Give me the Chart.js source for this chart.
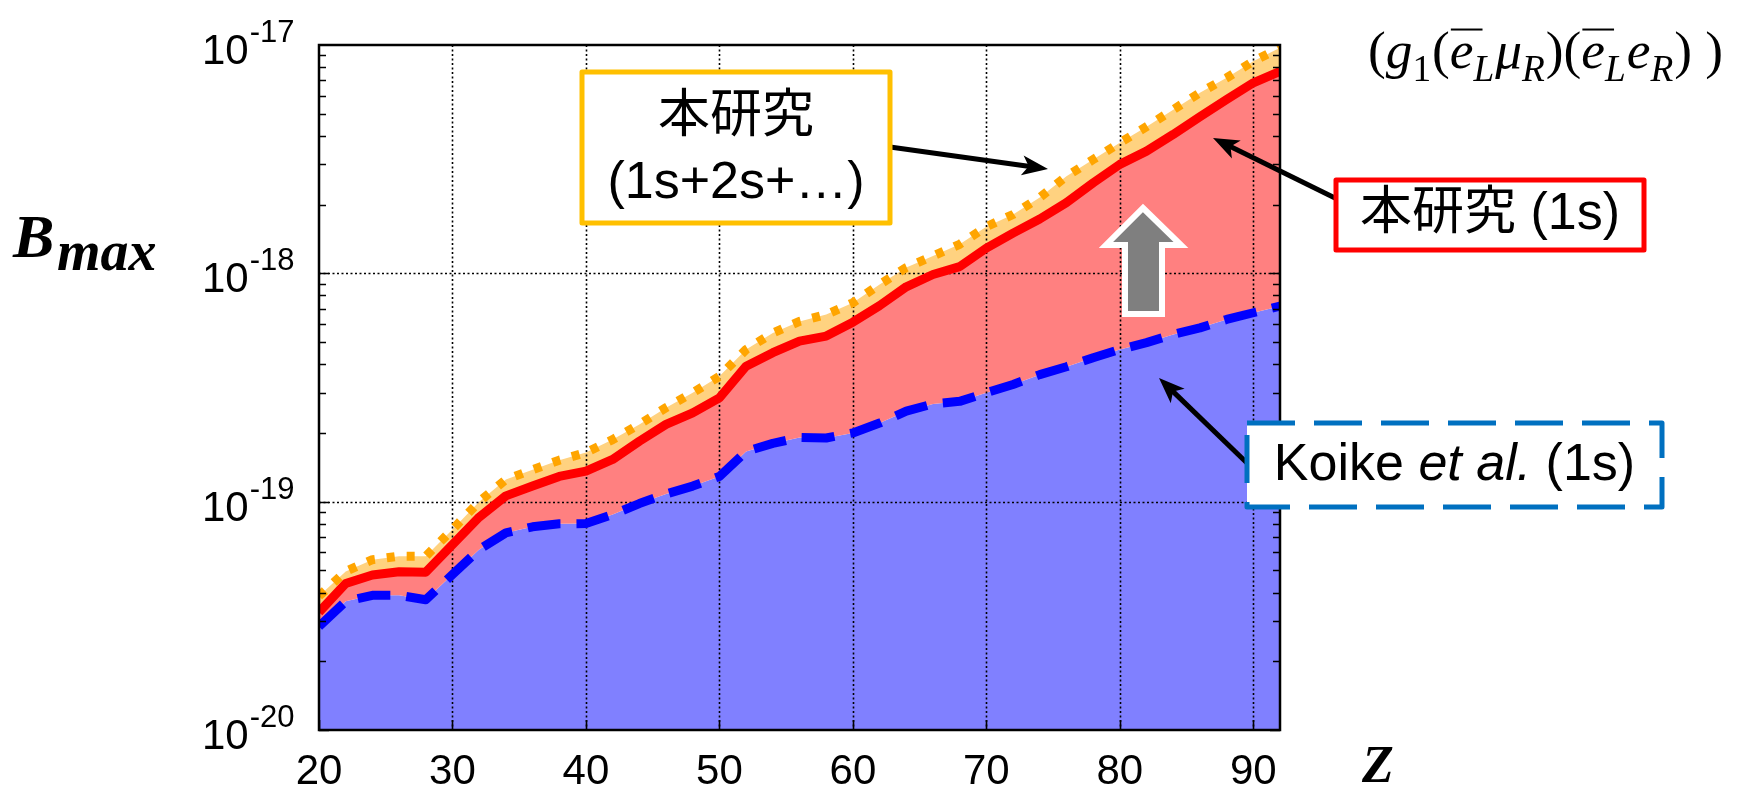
<!DOCTYPE html>
<html>
<head>
<meta charset="utf-8">
<script src="https://cdn.jsdelivr.net/npm/chart.js@4.4.0/dist/chart.umd.min.js"></script>
<style>
  html, body { margin: 0; padding: 0; background: #fff; }
  #wrap { width: 1738px; height: 788px; }
</style>
</head>
<body>
<div id="wrap"><canvas id="myChart" width="1738" height="788"></canvas></div>
<script>
// atomic number Z of the target nucleus
const zValues = [20, 22, 24, 26, 28, 30, 32, 34, 36, 38, 40, 42, 44, 46, 48, 50, 52, 54, 56,
  58, 60, 62, 64, 66, 68, 70, 72, 74, 76, 78, 80, 82, 84, 86, 88, 90, 92];

// this work, 1s+2s+... (orange dotted)
const bmaxAll = [3.86e-20, 4.95e-20, 5.57e-20, 5.77e-20, 5.77e-20, 7.55e-20, 1.00e-19, 1.25e-19,
  1.38e-19, 1.52e-19, 1.64e-19, 1.87e-19, 2.18e-19, 2.58e-19, 3.0e-19, 3.54e-19, 4.64e-19,
  5.48e-19, 6.16e-19, 6.6e-19, 7.43e-19, 8.93e-19, 1.06e-18, 1.19e-18, 1.34e-18, 1.60e-18,
  1.81e-18, 2.15e-18, 2.66e-18, 3.15e-18, 3.73e-18, 4.39e-18, 5.21e-18, 6.18e-18, 7.18e-18,
  8.49e-18, 9.72e-18];

// this work, 1s only (red solid)
const bmax1s = [3.28e-20, 4.38e-20, 4.77e-20, 4.93e-20, 4.91e-20, 6.49e-20, 8.55e-20, 1.06e-19,
  1.17e-19, 1.29e-19, 1.36e-19, 1.53e-19, 1.84e-19, 2.18e-19, 2.45e-19, 2.85e-19, 3.92e-19,
  4.49e-19, 5.05e-19, 5.31e-19, 6.11e-19, 7.22e-19, 8.73e-19, 9.88e-19, 1.07e-18, 1.29e-18,
  1.50e-18, 1.73e-18, 2.04e-18, 2.49e-18, 3.0e-18, 3.43e-18, 4.06e-18, 4.85e-18, 5.77e-18,
  6.83e-18, 7.67e-18];

// Koike et al., 1s (blue dashed)
const bmaxKoike = [2.84e-20, 3.66e-20, 3.89e-20, 3.89e-20, 3.72e-20, 4.80e-20, 6.17e-20, 7.30e-20,
  7.76e-20, 8.0e-20, 8.02e-20, 8.78e-20, 9.81e-20, 1.08e-19, 1.17e-19, 1.29e-19, 1.66e-19,
  1.80e-19, 1.91e-19, 1.90e-19, 2.0e-19, 2.21e-19, 2.49e-19, 2.68e-19, 2.75e-19, 3.0e-19,
  3.26e-19, 3.6e-19, 3.9e-19, 4.27e-19, 4.64e-19, 4.97e-19, 5.40e-19, 5.77e-19, 6.28e-19,
  6.72e-19, 7.18e-19];

const xTicks = [20, 30, 40, 50, 60, 70, 80, 90];
const yExponents = [-20, -19, -18, -17];

const toPoints = (arr) => zValues.map((z, i) => ({x: z, y: arr[i]}));

const SANS = '\'Liberation Sans\', Arial, \'Noto Sans CJK JP\', sans-serif';
const SERIF = '\'Liberation Serif\', \'Times New Roman\', serif';

// dotted grid, drawn over the fills but under the lines
const gridPlugin = {
  id: 'dottedGrid',
  afterDatasetDraw(chart, args) {
    if (args.index !== 3) return;
    const {ctx, chartArea: a, scales: {x, y}} = chart;
    ctx.save();
    ctx.strokeStyle = '#000';
    ctx.lineWidth = 1.6;
    ctx.setLineDash([2, 2.5]);
    xTicks.slice(1).forEach((v) => {
      const px = Math.round(x.getPixelForValue(v)) + 0.5;
      ctx.beginPath();
      ctx.moveTo(px, a.top);
      ctx.lineTo(px, a.bottom);
      ctx.stroke();
    });
    yExponents.slice(1, -1).forEach((e) => {
      const py = Math.round(y.getPixelForValue(Math.pow(10, e))) + 0.5;
      ctx.beginPath();
      ctx.moveTo(a.left, py);
      ctx.lineTo(a.right, py);
      ctx.stroke();
    });
    ctx.restore();
  },
};

function drawArrow(ctx, x1, y1, x2, y2) {
  const ang = Math.atan2(y2 - y1, x2 - x1);
  const c = Math.cos(ang);
  const s = Math.sin(ang);
  const headLen = 26;
  const headW = 10;
  ctx.save();
  ctx.strokeStyle = '#000';
  ctx.fillStyle = '#000';
  ctx.lineWidth = 5;
  ctx.beginPath();
  ctx.moveTo(x1, y1);
  ctx.lineTo(x2 - c * headLen * 0.7, y2 - s * headLen * 0.7);
  ctx.stroke();
  ctx.beginPath();
  ctx.moveTo(x2, y2);
  ctx.lineTo(x2 - c * headLen - s * headW, y2 - s * headLen + c * headW);
  ctx.lineTo(x2 - c * headLen * 0.75, y2 - s * headLen * 0.75);
  ctx.lineTo(x2 - c * headLen + s * headW, y2 - s * headLen - c * headW);
  ctx.closePath();
  ctx.fill();
  ctx.restore();
}

// (g1 (eL-bar muR)(eL-bar eR) ) in math style
const formulaParts = [
  {t: '(', it: false}, {t: 'g', it: true}, {t: '1', it: false, sub: true},
  {t: '(', it: false}, {t: 'e', it: true, bar: true}, {t: 'L', it: true, sub: true},
  {t: 'μ', it: true}, {t: 'R', it: true, sub: true}, {t: ')(', it: false},
  {t: 'e', it: true, bar: true}, {t: 'L', it: true, sub: true}, {t: 'e', it: true},
  {t: 'R', it: true, sub: true}, {t: ')', it: false}, {t: ' ', it: false}, {t: ')', it: false},
];

function drawFormula(ctx, x0, base, size, dry) {
  let x = x0;
  formulaParts.forEach((p) => {
    const fs = p.sub ? size * 0.7 : size;
    ctx.font = (p.it ? 'italic ' : '') + fs + 'px ' + SERIF;
    const w = ctx.measureText(p.t).width;
    if (!dry) {
      ctx.fillText(p.t, x, p.sub ? base + size * 0.25 : base);
      if (p.bar) {
        ctx.fillRect(x + 1, base - size * 0.74, w + 8, 2);
      }
    }
    x += w + (p.sub ? 1 : 0);
  });
  return x - x0;
}

const decorPlugin = {
  id: 'decor',
  afterDraw(chart) {
    const {ctx, chartArea: a, scales: {x, y}} = chart;
    ctx.save();

    // minor/major ticks on the log axes (inward) and bottom ticks
    ctx.strokeStyle = '#000';
    ctx.lineWidth = 1.6;
    for (let e = -20; e < -17; e++) {
      for (let m = 1; m <= 9; m++) {
        const py = Math.round(y.getPixelForValue(m * Math.pow(10, e))) + 0.5;
        const len = m === 1 ? 10 : 7;
        ctx.beginPath();
        ctx.moveTo(a.left, py); ctx.lineTo(a.left + len, py);
        ctx.moveTo(a.right, py); ctx.lineTo(a.right - len, py);
        ctx.stroke();
      }
    }
    xTicks.forEach((v) => {
      const px = Math.round(x.getPixelForValue(v)) + 0.5;
      ctx.beginPath();
      ctx.moveTo(px, a.bottom); ctx.lineTo(px, a.bottom - 10);
      ctx.stroke();
    });

    // frame
    ctx.lineWidth = 2.5;
    ctx.strokeRect(a.left, a.top, a.right - a.left, a.bottom - a.top);

    // y tick labels 10^n
    ctx.fillStyle = '#000';
    ctx.textBaseline = 'alphabetic';
    ctx.textAlign = 'left';
    yExponents.forEach((e) => {
      const py = y.getPixelForValue(Math.pow(10, e));
      ctx.font = '42px ' + SANS;
      ctx.fillText('10', 202, py + 19);
      const w = ctx.measureText('10').width;
      ctx.font = '31px ' + SANS;
      ctx.fillText(String(e), 202 + w + 1, py - 3);
    });

    // axis titles
    ctx.font = 'italic bold 62px ' + SERIF;
    ctx.fillText('B', 13, 257);
    ctx.font = 'italic bold 56px ' + SERIF;
    ctx.fillText('max', 57, 270);
    ctx.font = 'italic bold 52px ' + SERIF;
    ctx.fillText('Z', 1362, 782);

    // coupling label top right
    const fw = drawFormula(ctx, 0, 0, 34, true);
    const fsize = 34 * 358 / fw;
    drawFormula(ctx, 1368, 68, fsize, false);

    // grey up arrow
    ctx.beginPath();
    ctx.moveTo(1143, 208);
    ctx.lineTo(1181, 245);
    ctx.lineTo(1162, 245);
    ctx.lineTo(1162, 314);
    ctx.lineTo(1125, 314);
    ctx.lineTo(1125, 245);
    ctx.lineTo(1106, 245);
    ctx.closePath();
    ctx.fillStyle = '#7f7f7f';
    ctx.fill();
    ctx.lineWidth = 6;
    ctx.lineJoin = 'miter';
    ctx.strokeStyle = '#fff';
    ctx.stroke();

    // pointer arrows
    drawArrow(ctx, 890, 147, 1048, 169);
    drawArrow(ctx, 1337, 199, 1213, 138);
    drawArrow(ctx, 1247, 463, 1159, 378);

    // boxes
    ctx.lineJoin = 'round';
    ctx.lineWidth = 5;
    ctx.fillStyle = '#fff';
    ctx.fillRect(582, 72, 308, 151);
    ctx.strokeStyle = '#FFC000';
    ctx.strokeRect(582, 72, 308, 151);

    ctx.fillRect(1336, 180, 308, 70);
    ctx.strokeStyle = '#FF0000';
    ctx.strokeRect(1336, 180, 308, 70);

    ctx.fillRect(1247, 423, 415, 84);
    ctx.strokeStyle = '#0070C0';
    ctx.setLineDash([48, 19]);
    ctx.strokeRect(1247, 423, 415, 84);
    ctx.setLineDash([]);

    // box texts
    ctx.fillStyle = '#000';
    ctx.textAlign = 'center';
    ctx.textBaseline = 'middle';
    ctx.font = '52px ' + SANS;
    ctx.fillText('本研究', 736, 118);
    ctx.fillText('(1s+2s+…)', 736, 184);
    ctx.fillText('本研究 (1s)', 1490, 215);

    const koike = [
      {t: 'Koike ', f: '52px ' + SANS},
      {t: 'et al.', f: 'italic 52px ' + SANS},
      {t: ' (1s)', f: '52px ' + SANS},
    ];
    let total = 0;
    koike.forEach((k) => {
      ctx.font = k.f; k.w = ctx.measureText(k.t).width; total += k.w;
    });
    let kx = 1454.5 - total / 2;
    ctx.textAlign = 'left';
    koike.forEach((k) => {
      ctx.font = k.f; ctx.fillText(k.t, kx, 466); kx += k.w;
    });

    ctx.restore();
  },
};

const lineStyle = {pointRadius: 0, tension: 0, fill: false, order: 0,
  borderWidth: 9, borderCapStyle: 'butt', borderJoinStyle: 'round'};
const fillStyle = {pointRadius: 0, tension: 0, order: 1, borderWidth: 0,
  borderColor: 'rgba(0,0,0,0)'};

new Chart(document.getElementById('myChart'), {
  type: 'line',
  data: {
    datasets: [
      Object.assign({label: '本研究 (1s+2s+…)', data: toPoints(bmaxAll),
        borderColor: '#FFA500'}, lineStyle, {borderDash: [8, 12]}),
      Object.assign({label: '本研究 (1s)', data: toPoints(bmax1s),
        borderColor: '#FF0000'}, lineStyle),
      Object.assign({label: 'Koike et al. (1s)', data: toPoints(bmaxKoike),
        borderColor: '#0000FF'}, lineStyle, {borderDash: [33, 16]}),
      Object.assign({label: 'fill all', data: toPoints(bmaxAll),
        fill: 4, backgroundColor: '#FFD280'}, fillStyle),
      Object.assign({label: 'fill 1s', data: toPoints(bmax1s),
        fill: 5, backgroundColor: '#FF8080'}, fillStyle),
      Object.assign({label: 'fill Koike', data: toPoints(bmaxKoike),
        fill: 'start', backgroundColor: '#8080FF'}, fillStyle),
    ],
  },
  options: {
    responsive: false,
    animation: false,
    layout: {padding: {left: 319, top: 45, right: 458, bottom: 0}},
    plugins: {legend: {display: false}, tooltip: {enabled: false}},
    scales: {
      x: {
        type: 'linear',
        min: 20,
        max: 92,
        afterBuildTicks: (s) => {
          s.ticks = xTicks.map((v) => ({value: v}));
        },
        afterFit: (s) => {
          s.height = 58;
        },
        grid: {display: false},
        border: {display: false},
        ticks: {
          font: {family: 'Liberation Sans', size: 42},
          color: '#000',
          padding: 9,
          maxRotation: 0,
          autoSkip: false,
        },
      },
      y: {
        type: 'logarithmic',
        min: 1e-20,
        max: 1e-17,
        display: false,
      },
    },
  },
  plugins: [gridPlugin, decorPlugin],
});
</script>
</body>
</html>
